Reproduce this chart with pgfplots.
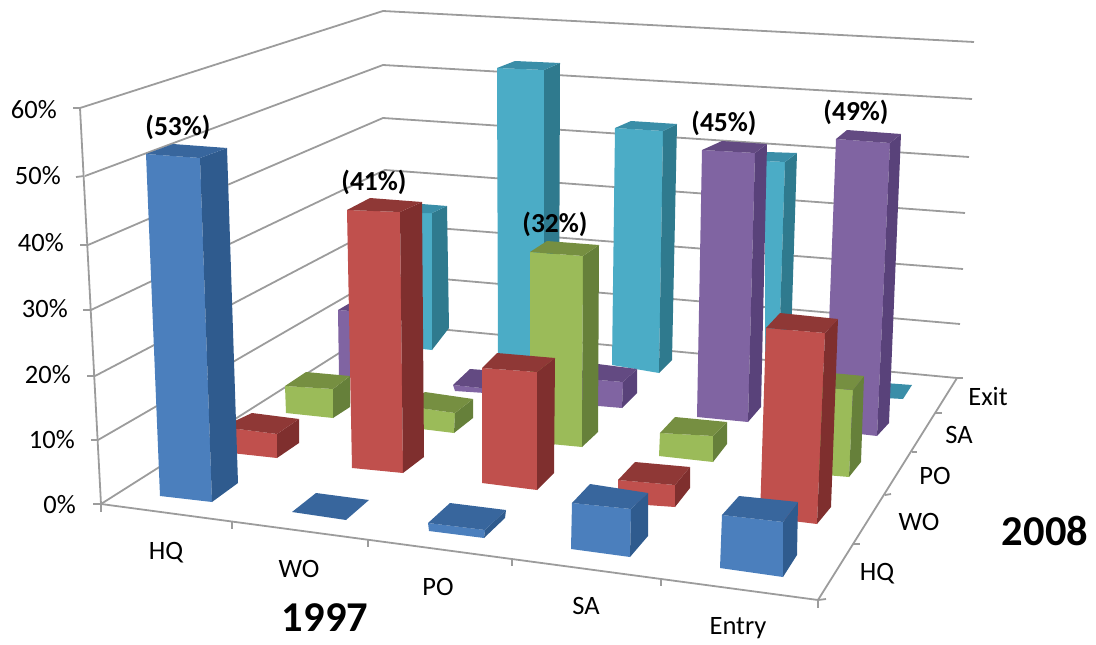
\documentclass[border=0pt]{standalone}
\usepackage{pgfplots}
\pgfplotsset{compat=1.18}
\usepackage{fontspec}
\setmainfont{Carlito}
% face colours: front, side, top of each series
\definecolor{bluF}{HTML}{4B7FBD}\definecolor{bluS}{HTML}{2F5B8E}\definecolor{bluT}{HTML}{38669D}
\definecolor{redF}{HTML}{C0504D}\definecolor{redS}{HTML}{7F2F2E}\definecolor{redT}{HTML}{8F3836}
\definecolor{grnF}{HTML}{9BBB59}\definecolor{grnS}{HTML}{66803A}\definecolor{grnT}{HTML}{768F41}
\definecolor{purF}{HTML}{8064A2}\definecolor{purS}{HTML}{59427A}\definecolor{purT}{HTML}{634A82}
\definecolor{cyaF}{HTML}{4BACC6}\definecolor{cyaS}{HTML}{2F7A8E}\definecolor{cyaT}{HTML}{3A8EA8}
\definecolor{gridc}{HTML}{9C9C9C}
% one column: colour prefix, then the outlines of front, side and top
\newcommand{\barcol}[4]{%
  \addplot[fill=#1F,draw=none] coordinates {#2} -- cycle;
  \addplot[fill=#1S,draw=none] coordinates {#3} -- cycle;
  \addplot[fill=#1T,draw=none] coordinates {#4} -- cycle;
}
\newcommand{\gridseg}[1]{\addplot[gridc,line width=1.8pt,line join=round] coordinates {#1};}
\newcommand{\ticklab}[3]{\node[anchor=east,font=\fontsize{26.5}{26.5}\selectfont,inner sep=0pt] at (axis cs:#1,#2) {#3};}
\newcommand{\catlab}[3]{\node[yshift=-1.5pt,font=\fontsize{26.5}{26.5}\selectfont,inner sep=0pt] at (axis cs:#1,#2) {#3};}
\newcommand{\vallab}[3]{\node[font=\fontsize{27.5}{27.5}\selectfont\bfseries,inner sep=0pt] at (axis cs:#1,#2) {#3};}
\begin{document}
\begin{tikzpicture}
\begin{axis}[
  scale only axis, width=1096pt, height=645pt,
  xmin=0, xmax=1096, ymin=0, ymax=645, y dir=reverse,
  axis lines=none, clip=false,
]
% page extent
\path (axis cs:0,0) rectangle (axis cs:1096,645);
% walls
\gridseg{(80,108) (383,11) (974,42)}
\gridseg{(85,176) (383,65) (972,99)}
\gridseg{(88,245) (383,118) (969,157)}
\gridseg{(91,310) (385,170) (965,213)}
\gridseg{(95,376) (385,224) (963,269)}
\gridseg{(98,440) (385,274) (960,324)}
\gridseg{(101,504) (385,324) (957,378)}
% value axis with its ticks
\gridseg{(80,108) (101,504)}
\gridseg{(73,108) (80,108)}
\gridseg{(76,177) (84,176)}
\gridseg{(80,245) (88,245)}
\gridseg{(83,310) (91,310)}
\gridseg{(87,376) (95,376)}
\gridseg{(91,440) (98,440)}
\gridseg{(93,504) (101,504)}
% floor edges and ticks
\gridseg{(101,504) (818,600) (957,378)}
\gridseg{(957,378) (963,378)}
\gridseg{(935,413) (942,413)}
\gridseg{(912,452) (917,452)}
\gridseg{(885,495) (891,494)}
\gridseg{(853,544) (860,544)}
\gridseg{(818,600) (826,599)}
\gridseg{(101,504) (101,512)}
\gridseg{(232,521) (232,529)}
\gridseg{(368,540) (368,547)}
\gridseg{(512,559) (512,566)}
\gridseg{(661,579) (661,586)}
\gridseg{(818,600) (818,608)}

% row Exit
\barcol{cya}{(421,213) (432,213) (432,350) (423,349)}{(432,213) (447,206) (449,328) (432,350)}{(421,213) (422,204) (447,206) (432,213)}
\barcol{cya}{(497,68) (544,70) (544,360) (498,360)}{(544,70) (560,63) (559,345) (544,360)}{(497,68) (515,61) (560,63) (544,70)}
\barcol{cya}{(615,128) (663,131) (659,373) (612,365)}{(663,131) (677,124) (672,360) (659,373)}{(615,128) (631,121) (677,124) (663,131)}
\barcol{cya}{(765,161) (785,162) (778,385) (765,385)}{(785,162) (797,153) (790,370) (778,385)}{(765,161) (767,152) (797,153) (785,162)}
\addplot[fill=cyaT,draw=none] coordinates {(885,383) (912,385) (903,399) (885,398)} -- cycle;

% row SA
\barcol{pur}{(338,310) (385,314) (385,380) (339,376)}{(385,314) (395,305) (395,370) (385,380)}{(338,310) (350,303) (395,305) (385,314)}
\barcol{pur}{(453,385) (500,390) (500,394) (455,391)}{(500,390) (510,380) (510,385) (500,394)}{(453,385) (470,369) (510,372) (500,390)}
\barcol{pur}{(575,378) (623,382) (622,408) (575,404)}{(623,382) (637,369) (637,393) (622,408)}{(575,378) (590,363) (637,369) (623,382)}
\barcol{pur}{(702,150) (755,153) (748,422) (697,417)}{(755,153) (767,144) (761,407) (748,422)}{(702,150) (722,141) (767,144) (755,153)}
\barcol{pur}{(836,139) (890,143) (877,436) (825,430)}{(890,143) (901,134) (889,423) (877,436)}{(836,139) (847,130) (901,134) (890,143)}

% row PO
\barcol{grn}{(285,386) (333,389) (333,418) (286,413)}{(333,389) (350,376) (350,407) (333,418)}{(285,386) (306,372) (350,376) (333,389)}
\barcol{grn}{(405,406) (455,413) (454,433) (405,427)}{(455,413) (473,399) (473,418) (454,433)}{(405,406) (425,392) (473,399) (455,413)}
\barcol{grn}{(530,252) (583,256) (582,447) (530,442)}{(583,256) (599,245) (598,432) (582,447)}{(530,252) (547,241) (599,245) (583,256)}
\barcol{grn}{(660,433) (713,436) (713,462) (659,456)}{(713,436) (727,422) (727,444) (713,462)}{(660,433) (675,417) (727,422) (713,436)}
\barcol{grn}{(790,385) (853,390) (849,477) (790,472)}{(853,390) (864,376) (861,462) (849,477)}{(790,385) (810,371) (864,376) (853,390)}

% row WO
\barcol{red}{(222,427) (277,434) (277,458) (222,452)}{(277,434) (299,419) (299,443) (277,458)}{(222,427) (252,413) (299,419) (277,434)}
\barcol{red}{(347,210) (400,212) (403,473) (352,468)}{(400,212) (422,202) (424,457) (403,473)}{(347,210) (370,198) (422,202) (400,212)}
\barcol{red}{(482,368) (537,372) (537,490) (482,483)}{(537,372) (555,358) (554,473) (537,490)}{(482,368) (497,353) (555,358) (537,372)}
\barcol{red}{(618,480) (675,485) (675,507) (618,503)}{(675,485) (690,467) (690,488) (675,507)}{(618,480) (635,462) (690,467) (675,485)}
\barcol{red}{(766,328) (825,333) (817,524) (760,517)}{(825,333) (838,319) (831,507) (817,524)}{(766,328) (780,313) (838,319) (825,333)}

% row HQ
\barcol{blu}{(146,154) (200,158) (212,502) (160,496)}{(200,158) (227,148) (238,483) (212,502)}{(146,154) (173,144) (227,148) (200,158)}
\addplot[fill=bluT,draw=none] coordinates {(292,512) (316,493) (369,500) (346,520)} -- cycle;
\barcol{blu}{(428,523) (485,530) (484,538) (429,531)}{(485,530) (506,510) (505,518) (484,538)}{(428,523) (450,503) (506,510) (485,530)}
\barcol{blu}{(572,503) (631,509) (630,557) (571,549)}{(631,509) (648,493) (648,536) (630,557)}{(572,503) (590,484) (648,493) (631,509)}
\barcol{blu}{(722,515) (783,522) (783,577) (720,568)}{(783,522) (798,502) (797,555) (783,577)}{(722,515) (739,496) (798,502) (783,522)}

% value axis labels
\ticklab{57}{110}{60\%}
\ticklab{61}{176}{50\%}
\ticklab{64}{243}{40\%}
\ticklab{68}{309}{30\%}
\ticklab{71}{375}{20\%}
\ticklab{75}{440}{10\%}
\ticklab{76}{505}{0\%}
% category labels along the floor
\catlab{166}{551}{HQ}
\catlab{299}{567}{WO}
\catlab{438}{585}{PO}
\catlab{586}{604}{SA}
\catlab{738}{627}{Entry}
\catlab{877}{572}{HQ}
\catlab{919}{520}{WO}
\catlab{935}{474}{PO}
\catlab{959}{433}{SA}
\catlab{988}{395}{Exit}
% labelled columns
\vallab{178}{127}{(53\%)}
\vallab{374}{182}{(41\%)}
\vallab{555}{224}{(32\%)}
\vallab{724}{123}{(45\%)}
\vallab{856}{112}{(49\%)}
% year captions
\node[font=\fontsize{42.5}{42.5}\selectfont\bfseries,inner sep=0pt] at (axis cs:325,618) {1997};
\node[font=\fontsize{42.5}{42.5}\selectfont\bfseries,inner sep=0pt] at (axis cs:1045,531) {2008};
\end{axis}
\end{tikzpicture}
\end{document}
